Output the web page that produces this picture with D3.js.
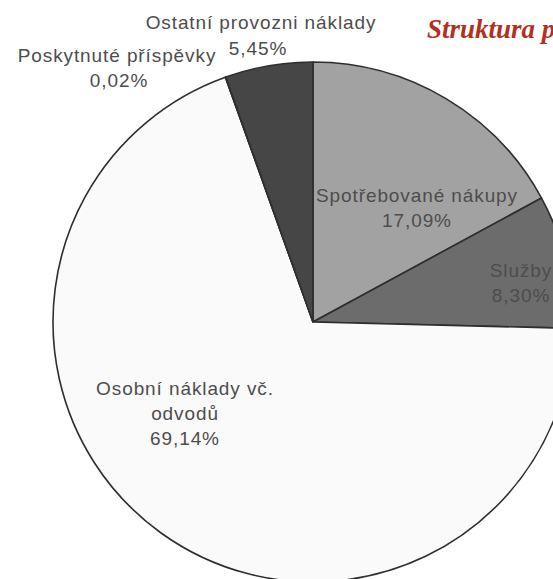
<!DOCTYPE html>
<html>
<head>
<meta charset="utf-8">
<script src="https://cdn.jsdelivr.net/npm/d3@7"></script>
<style>
  body { margin: 0; background: #fff; }
  svg { display: block; }
</style>
</head>
<body>
<script>
// data
var categories = ["Spotřebované nákupy", "Služby", "Osobní náklady vč. odvodů", "Poskytnuté příspěvky", "Ostatní provozni náklady"];
var values = [17.09, 8.30, 69.14, 0.02, 5.45];
var valueLabels = ["17,09%", "8,30%", "69,14%", "0,02%", "5,45%"];
var colors = ["#a2a2a2", "#6c6c6c", "#fafafa", "#fafafa", "#464646"];

var w = 553, h = 579;
var cx = 313, cy = 322, r = 260;

var svg = d3.select("body").append("svg").attr("width", w).attr("height", h);

var pie = d3.pie().sort(null).value(function (d) { return d; });
var arcs = pie(values);
var arc = d3.arc().innerRadius(0).outerRadius(r);

var g = svg.append("g").attr("transform", "translate(" + cx + "," + cy + ")");

g.selectAll("path")
  .data(arcs)
  .enter().append("path")
    .attr("d", arc)
    .attr("fill", function (d, i) { return colors[i]; })
    .attr("stroke", "#2e2e2e")
    .attr("stroke-width", 1.6)
    .attr("stroke-linejoin", "round");

// label lines: name split as in the picture, then value; [lines, x, baseline y] from pie center
var labelLines = [
  [["Spotřebované nákupy", valueLabels[0]], 104, -120],
  [["Služby", valueLabels[1]], 208, -45],
  [["Osobní náklady vč.", "odvodů", valueLabels[2]], -128, 73],
  [["Poskytnuté příspěvky", valueLabels[3]], -196, -260],
  [["Ostatní provozni náklady", valueLabels[4]], -52, -293]
];

labelLines.forEach(function (l, i) {
  var t = g.append("text")
    .attr("text-anchor", "middle")
    .attr("font-family", "Liberation Sans, Arial, sans-serif")
    .attr("font-size", 19)
    .attr("letter-spacing", 0.9)
    .attr("fill", "#4d4d4d");
  l[0].forEach(function (s, j) {
    t.append("tspan").attr("x", l[1]).attr("y", l[2] + j * 25).text(s);
  });
});

// the 5,45% value sits a bit lower-left under its name
g.selectAll("text").filter(function (d, i) { return i === 4; })
  .select("tspan:nth-child(2)").attr("x", -55).attr("y", -267);
g.selectAll("text").filter(function (d, i) { return i === 3; })
  .select("tspan:nth-child(2)").attr("x", -194);

svg.append("text")
  .attr("x", 427)
  .attr("y", 38)
  .attr("font-family", "Liberation Serif, serif")
  .attr("font-style", "italic")
  .attr("font-weight", "bold")
  .attr("font-size", 27)
  .attr("fill", "#b3301e")
  .text("Struktura provozních nákladů");
</script>
</body>
</html>
